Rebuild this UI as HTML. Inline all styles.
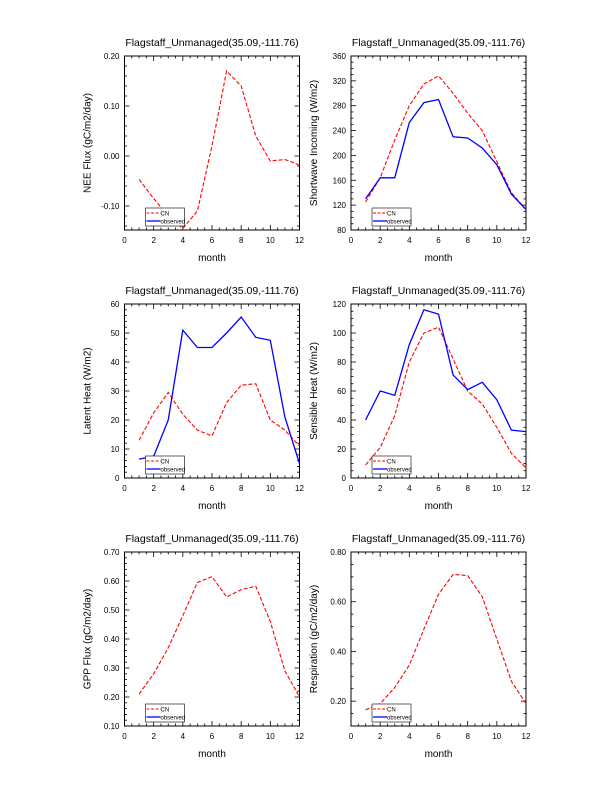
<!DOCTYPE html>
<html><head><meta charset="utf-8"><style>
html,body{margin:0;padding:0;background:#fff}
svg{display:block}
text{font-family:"Liberation Sans",sans-serif;fill:#000}
.t{font-size:10.5px;text-anchor:middle}
.yl{font-size:10px;text-anchor:middle}
.tk{font-size:8px}
.tx{text-anchor:middle}
.ty{text-anchor:end}
.lg{font-size:6px}
.cn{fill:none;stroke:#f00;stroke-width:1.1;stroke-dasharray:4,2}
.ob{fill:none;stroke:#00f;stroke-width:1.3}
</style></head><body>
<svg id="s" width="612" height="792" viewBox="0 0 612 792" xmlns="http://www.w3.org/2000/svg">
<g id="ticks" stroke="#000" stroke-width="0.8"></g>

<g transform="translate(124.5,56)">
<text class="t" x="87.5" y="-10">Flagstaff_Unmanaged(35.09,-111.76)</text>
<text class="yl" transform="translate(-34,87) rotate(-90)">NEE Flux (gC/m2/day)</text>
<text class="tk ty" x="-5" y="3">0.20</text><text class="tk ty" x="-5" y="53">0.10</text><text class="tk ty" x="-5" y="103">0.00</text><text class="tk ty" x="-5" y="153">-0.10</text>
<polyline class="cn" points="14.6,123.5 29.2,142.5 43.75,160 58.3,172.5 72.9,155 87.5,90 102.1,15 116.7,30 131.25,80 145.8,105 160.4,103.5 175,109"/>
</g>
<g transform="translate(351,56)">
<text class="t" x="87.5" y="-10">Flagstaff_Unmanaged(35.09,-111.76)</text>
<text class="yl" transform="translate(-34,87) rotate(-90)">Shortwave Incoming (W/m2)</text>
<text class="tk ty" x="-5" y="3">360</text><text class="tk ty" x="-5" y="27.9">320</text><text class="tk ty" x="-5" y="52.7">280</text><text class="tk ty" x="-5" y="77.6">240</text><text class="tk ty" x="-5" y="102.4">200</text><text class="tk ty" x="-5" y="127.3">160</text><text class="tk ty" x="-5" y="152.1">120</text><text class="tk ty" x="-5" y="177">80</text>
<polyline class="cn" points="14.6,146 29.2,121.8 43.75,83.9 58.3,49.7 72.9,28 87.5,19.9 102.1,37.3 116.7,57.2 131.25,74.6 145.8,105.6 160.4,136.7 175,153.5"/>
<polyline class="ob" points="14.6,142.9 29.2,121.8 43.75,121.8 58.3,66.5 72.9,46.6 87.5,43.5 102.1,80.8 116.7,82 131.25,92 145.8,108.7 160.4,138.1 175,153.5"/>
</g>
<g transform="translate(124.5,304)">
<text class="t" x="87.5" y="-10">Flagstaff_Unmanaged(35.09,-111.76)</text>
<text class="yl" transform="translate(-34,87) rotate(-90)">Latent Heat (W/m2)</text>
<text class="tk ty" x="-5" y="3">60</text><text class="tk ty" x="-5" y="32">50</text><text class="tk ty" x="-5" y="61">40</text><text class="tk ty" x="-5" y="90">30</text><text class="tk ty" x="-5" y="119">20</text><text class="tk ty" x="-5" y="148">10</text><text class="tk ty" x="-5" y="177">0</text>
<polyline class="cn" points="14.6,136.3 29.2,108.75 43.75,88.45 58.3,110.2 72.9,126.15 87.5,131.95 102.1,98.6 116.7,81.2 131.25,79.75 145.8,116 160.4,126.15 175,142.1"/>
<polyline class="ob" points="14.6,155.15 29.2,152.25 43.75,116 58.3,26.1 72.9,43.5 87.5,43.5 102.1,29 116.7,13.05 131.25,33.35 145.8,36.25 160.4,113.1 175,159.5"/>
</g>
<g transform="translate(351,304)">
<text class="t" x="87.5" y="-10">Flagstaff_Unmanaged(35.09,-111.76)</text>
<text class="yl" transform="translate(-34,87) rotate(-90)">Sensible Heat (W/m2)</text>
<text class="tk ty" x="-5" y="3">120</text><text class="tk ty" x="-5" y="32">100</text><text class="tk ty" x="-5" y="61">80</text><text class="tk ty" x="-5" y="90">60</text><text class="tk ty" x="-5" y="119">40</text><text class="tk ty" x="-5" y="148">20</text><text class="tk ty" x="-5" y="177">0</text>
<polyline class="cn" points="14.6,160.95 29.2,143.55 43.75,111.65 58.3,58 72.9,29 87.5,23.2 102.1,55.1 116.7,87 131.25,100.05 145.8,123.25 160.4,149.35 175,163.85"/>
<polyline class="ob" points="14.6,116 29.2,87 43.75,91.35 58.3,40.6 72.9,5.8 87.5,10.15 102.1,71.05 116.7,85.55 131.25,78.3 145.8,95.7 160.4,126.15 175,127.6"/>
</g>
<g transform="translate(124.5,552)">
<text class="t" x="87.5" y="-10">Flagstaff_Unmanaged(35.09,-111.76)</text>
<text class="yl" transform="translate(-34,87) rotate(-90)">GPP Flux (gC/m2/day)</text>
<text class="tk ty" x="-5" y="3">0.70</text><text class="tk ty" x="-5" y="32">0.60</text><text class="tk ty" x="-5" y="61">0.50</text><text class="tk ty" x="-5" y="90">0.40</text><text class="tk ty" x="-5" y="119">0.30</text><text class="tk ty" x="-5" y="148">0.20</text><text class="tk ty" x="-5" y="177">0.10</text>
<polyline class="cn" points="14.6,142.1 29.2,121.8 43.75,95.7 58.3,63.8 72.9,30.45 87.5,24.65 102.1,44.95 116.7,37.7 131.25,34.2 145.8,69.6 160.4,118.9 175,145"/>
</g>
<g transform="translate(351,552)">
<text class="t" x="87.5" y="-10">Flagstaff_Unmanaged(35.09,-111.76)</text>
<text class="yl" transform="translate(-34,87) rotate(-90)">Respiration (gC/m2/day)</text>
<text class="tk ty" x="-5" y="3">0.80</text><text class="tk ty" x="-5" y="52.7">0.60</text><text class="tk ty" x="-5" y="102.4">0.40</text><text class="tk ty" x="-5" y="152.1">0.20</text>
<polyline class="cn" points="14.6,157.9 29.2,151.6 43.75,135.5 58.3,113.1 72.9,77.1 87.5,42.3 102.1,22.4 116.7,23.6 131.25,44.7 145.8,87 160.4,129.3 175,151.6"/>
</g>

<g transform="translate(124.5,56)"><text class="tk tx" x="0" y="187">0</text><text class="tk tx" x="29.2" y="187">2</text><text class="tk tx" x="58.3" y="187">4</text><text class="tk tx" x="87.5" y="187">6</text><text class="tk tx" x="116.7" y="187">8</text><text class="tk tx" x="145.8" y="187">10</text><text class="tk tx" x="175" y="187">12</text><text class="yl" x="87.5" y="205">month</text>
<rect x="21" y="152" width="39" height="18" fill="#fff" stroke="#000" stroke-width="0.6"/><line x1="22" y1="157" x2="36" y2="157" class="cn" style="stroke-dasharray:3,1.5"/><text class="lg" x="36" y="159.5">CN</text><line x1="22" y1="165" x2="36" y2="165" class="ob"/><text class="lg" x="36" y="167.5">observed</text></g>
<g transform="translate(351,56)"><text class="tk tx" x="0" y="187">0</text><text class="tk tx" x="29.2" y="187">2</text><text class="tk tx" x="58.3" y="187">4</text><text class="tk tx" x="87.5" y="187">6</text><text class="tk tx" x="116.7" y="187">8</text><text class="tk tx" x="145.8" y="187">10</text><text class="tk tx" x="175" y="187">12</text><text class="yl" x="87.5" y="205">month</text>
<rect x="21" y="152" width="39" height="18" fill="#fff" stroke="#000" stroke-width="0.6"/><line x1="22" y1="157" x2="36" y2="157" class="cn" style="stroke-dasharray:3,1.5"/><text class="lg" x="36" y="159.5">CN</text><line x1="22" y1="165" x2="36" y2="165" class="ob"/><text class="lg" x="36" y="167.5">observed</text></g>
<g transform="translate(124.5,304)"><text class="tk tx" x="0" y="187">0</text><text class="tk tx" x="29.2" y="187">2</text><text class="tk tx" x="58.3" y="187">4</text><text class="tk tx" x="87.5" y="187">6</text><text class="tk tx" x="116.7" y="187">8</text><text class="tk tx" x="145.8" y="187">10</text><text class="tk tx" x="175" y="187">12</text><text class="yl" x="87.5" y="205">month</text>
<rect x="21" y="152" width="39" height="18" fill="#fff" stroke="#000" stroke-width="0.6"/><line x1="22" y1="157" x2="36" y2="157" class="cn" style="stroke-dasharray:3,1.5"/><text class="lg" x="36" y="159.5">CN</text><line x1="22" y1="165" x2="36" y2="165" class="ob"/><text class="lg" x="36" y="167.5">observed</text></g>
<g transform="translate(351,304)"><text class="tk tx" x="0" y="187">0</text><text class="tk tx" x="29.2" y="187">2</text><text class="tk tx" x="58.3" y="187">4</text><text class="tk tx" x="87.5" y="187">6</text><text class="tk tx" x="116.7" y="187">8</text><text class="tk tx" x="145.8" y="187">10</text><text class="tk tx" x="175" y="187">12</text><text class="yl" x="87.5" y="205">month</text>
<rect x="21" y="152" width="39" height="18" fill="#fff" stroke="#000" stroke-width="0.6"/><line x1="22" y1="157" x2="36" y2="157" class="cn" style="stroke-dasharray:3,1.5"/><text class="lg" x="36" y="159.5">CN</text><line x1="22" y1="165" x2="36" y2="165" class="ob"/><text class="lg" x="36" y="167.5">observed</text></g>
<g transform="translate(124.5,552)"><text class="tk tx" x="0" y="187">0</text><text class="tk tx" x="29.2" y="187">2</text><text class="tk tx" x="58.3" y="187">4</text><text class="tk tx" x="87.5" y="187">6</text><text class="tk tx" x="116.7" y="187">8</text><text class="tk tx" x="145.8" y="187">10</text><text class="tk tx" x="175" y="187">12</text><text class="yl" x="87.5" y="205">month</text>
<rect x="21" y="152" width="39" height="18" fill="#fff" stroke="#000" stroke-width="0.6"/><line x1="22" y1="157" x2="36" y2="157" class="cn" style="stroke-dasharray:3,1.5"/><text class="lg" x="36" y="159.5">CN</text><line x1="22" y1="165" x2="36" y2="165" class="ob"/><text class="lg" x="36" y="167.5">observed</text></g>
<g transform="translate(351,552)"><text class="tk tx" x="0" y="187">0</text><text class="tk tx" x="29.2" y="187">2</text><text class="tk tx" x="58.3" y="187">4</text><text class="tk tx" x="87.5" y="187">6</text><text class="tk tx" x="116.7" y="187">8</text><text class="tk tx" x="145.8" y="187">10</text><text class="tk tx" x="175" y="187">12</text><text class="yl" x="87.5" y="205">month</text>
<rect x="21" y="152" width="39" height="18" fill="#fff" stroke="#000" stroke-width="0.6"/><line x1="22" y1="157" x2="36" y2="157" class="cn" style="stroke-dasharray:3,1.5"/><text class="lg" x="36" y="159.5">CN</text><line x1="22" y1="165" x2="36" y2="165" class="ob"/><text class="lg" x="36" y="167.5">observed</text></g>
</svg>
<script>
(function(){
var NS="http://www.w3.org/2000/svg",g=document.getElementById("ticks");
function L(a,b,c,d){var l=document.createElementNS(NS,"line");l.setAttribute("x1",a);l.setAttribute("y1",b);l.setAttribute("x2",c);l.setAttribute("y2",d);g.appendChild(l);}
var P=[[124.5,56,50,10],[351,56,24.857,6.214],[124.5,304,29,5.8],[351,304,29,7.25],[124.5,552,29,5.8],[351,552,49.714,12.43]];
var W=175,H=174;
P.forEach(function(p){
 var x=p[0],y=p[1];
 var r=document.createElementNS(NS,"rect");r.setAttribute("x",x);r.setAttribute("y",y);r.setAttribute("width",W);r.setAttribute("height",H);r.setAttribute("fill","none");r.setAttribute("stroke","#000");r.setAttribute("stroke-width","1");g.appendChild(r);
 for(var m=0;m<=24;m++){var xx=x+m*W/24,len=(m%4==0)?5:2.5;L(xx,y+H,xx,y+H-len);L(xx,y,xx,y+len);}
 for(var yy=0;yy<=H+0.01;yy+=p[3]){var maj=Math.abs(yy/p[2]-Math.round(yy/p[2]))<0.02,len=maj?5:2.5;L(x,y+yy,x+len,y+yy);L(x+W,y+yy,x+W-len,y+yy);}
});
})();
</script>
</body></html>
